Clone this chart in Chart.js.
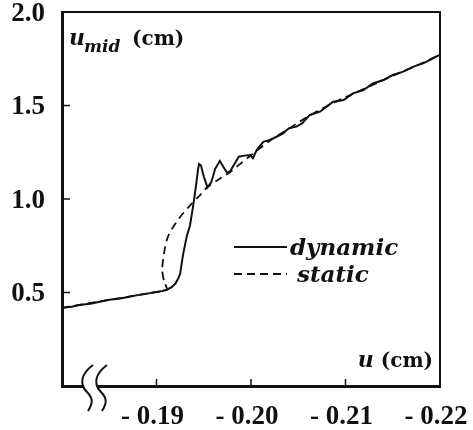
<!DOCTYPE html>
<html>
<head>
<meta charset="utf-8">
<script src="https://cdn.jsdelivr.net/npm/chart.js@4.4.1/dist/chart.umd.min.js"></script>
<style>
  html, body { margin: 0; padding: 0; background: #fff; }
  #wrap { width: 473px; height: 430px; }
</style>
</head>
<body>
<div id="wrap"><canvas id="grafico" width="473" height="430"></canvas></div>
<script>
// midpoint displacement vs end displacement (cm)
const uDynamic = [-0.1800, -0.1810, -0.1820, -0.1830, -0.1840, -0.1850, -0.1860, -0.1870, -0.1880, -0.1890,
  -0.1900, -0.1906, -0.1911, -0.1916, -0.1920, -0.1923, -0.1925, -0.1928, -0.1932, -0.19355,
  -0.1939, -0.1942, -0.1944, -0.1945, -0.1947, -0.1950, -0.1954, -0.1958, -0.1962, -0.1967,
  -0.1971, -0.1975, -0.1978, -0.1983, -0.1987, -0.1993, -0.1999, -0.2002, -0.2006, -0.2013,
  -0.2020, -0.2027, -0.2034, -0.2040, -0.2048, -0.2054, -0.2062, -0.2073, -0.2080, -0.2087,
  -0.2098, -0.2108, -0.2119, -0.2129, -0.2140, -0.2150, -0.2161, -0.2172, -0.2182, -0.2189, -0.2199];
const midDynamic = [0.418, 0.424, 0.434, 0.440, 0.450, 0.461, 0.467, 0.476, 0.486, 0.494,
  0.503, 0.508, 0.515, 0.528, 0.548, 0.575, 0.600, 0.700, 0.800, 0.860,
  0.970, 1.080, 1.160, 1.187, 1.180, 1.120, 1.062, 1.090, 1.160, 1.203,
  1.170, 1.139, 1.150, 1.191, 1.226, 1.232, 1.235, 1.218, 1.262, 1.306,
  1.316, 1.333, 1.351, 1.378, 1.387, 1.404, 1.449, 1.467, 1.494, 1.520,
  1.529, 1.565, 1.583, 1.618, 1.636, 1.663, 1.681, 1.708, 1.725, 1.743, 1.770];

const uStatic = [-0.1800, -0.1850, -0.1900, -0.1911, -0.1908, -0.1906, -0.1907, -0.1909, -0.1912, -0.1917,
  -0.1925, -0.1934, -0.1944, -0.1954, -0.1966, -0.1978, -0.1988, -0.1997, -0.2007, -0.2020,
  -0.2040, -0.2060, -0.2080, -0.2100, -0.2120, -0.2140, -0.2160, -0.2180, -0.2199];
const midStatic = [0.418, 0.461, 0.503, 0.515, 0.560, 0.620, 0.675, 0.740, 0.797, 0.845,
  0.904, 0.957, 1.010, 1.064, 1.105, 1.144, 1.185, 1.222, 1.262, 1.312,
  1.376, 1.440, 1.496, 1.545, 1.590, 1.636, 1.680, 1.724, 1.770];

const xTicks = [-0.19, -0.20, -0.21, -0.22];
const yTicks = [0.5, 1.0, 1.5, 2.0];
const seriesNames = ['dynamic', 'static'];

const serif = '"DejaVu Serif", "Liberation Serif", serif';
const numFont = '"Liberation Serif", "DejaVu Serif", serif';

function toPoints(xs, ys) {
  return xs.map((x, i) => ({ x: x, y: ys[i] }));
}

// frame, inward ticks, axis break, titles and legend
const framePlugin = {
  id: 'frame',
  afterDraw(chart) {
    const ctx = chart.ctx;
    const a = chart.chartArea;
    const xs = chart.scales.x, ys = chart.scales.y;
    ctx.save();
    ctx.strokeStyle = '#111';
    ctx.lineCap = 'butt';

    // top and right edges
    ctx.lineWidth = 2;
    ctx.beginPath();
    ctx.moveTo(a.left, a.top);
    ctx.lineTo(a.right, a.top);
    ctx.lineTo(a.right, a.bottom);
    ctx.stroke();

    // short ticks pointing inward
    ctx.lineWidth = 1.5;
    yTicks.slice(0, 3).forEach(v => {
      const py = ys.getPixelForValue(v);
      ctx.beginPath();
      ctx.moveTo(a.left, py);
      ctx.lineTo(a.left + 8, py);
      ctx.stroke();
    });
    xTicks.slice(0, 3).forEach(v => {
      const px = xs.getPixelForValue(v);
      ctx.beginPath();
      ctx.moveTo(px, a.bottom);
      ctx.lineTo(px, a.bottom - 7);
      ctx.stroke();
    });

    // axis break on the x axis
    const bx = a.left + 21;
    ctx.fillStyle = '#fff';
    ctx.fillRect(bx + 1, a.bottom - 4, 14, 8);
    ctx.lineWidth = 2;
    [0, 14].forEach(dx => {
      const x0 = bx + dx;
      ctx.beginPath();
      ctx.moveTo(x0 + 10, a.bottom - 21);
      ctx.bezierCurveTo(x0 - 2, a.bottom - 12, x0 - 4, a.bottom - 2, x0 + 4, a.bottom + 6);
      ctx.bezierCurveTo(x0 + 12, a.bottom + 14, x0 + 8, a.bottom + 20, x0 + 5, a.bottom + 25);
      ctx.stroke();
    });

    // axis titles
    ctx.fillStyle = '#111';
    ctx.textBaseline = 'alphabetic';
    ctx.textAlign = 'left';
    ctx.font = 'italic bold 22px ' + serif;
    ctx.fillText('u', a.left + 7, a.top + 33);
    ctx.font = 'italic bold 17px ' + serif;
    ctx.fillText('mid', a.left + 22, a.top + 40);
    ctx.font = 'bold 20px ' + serif;
    ctx.fillText('(cm)', a.left + 70, a.top + 33);

    ctx.textAlign = 'right';
    ctx.font = 'bold 20px ' + serif;
    const cm = '(cm)';
    ctx.fillText(cm, a.right - 7, a.bottom - 19);
    const cmW = ctx.measureText(cm + ' ').width;
    ctx.font = 'italic bold 22px ' + serif;
    ctx.fillText('u', a.right - 7 - cmW, a.bottom - 19);

    // legend
    const sets = chart.data.datasets;
    const rows = [247, 274];
    ctx.textAlign = 'left';
    ctx.font = 'italic bold 23px ' + serif;
    sets.forEach((ds, i) => {
      const y = rows[i];
      ctx.strokeStyle = ds.borderColor;
      ctx.lineWidth = ds.borderWidth;
      ctx.setLineDash(ds.borderDash || []);
      ctx.beginPath();
      ctx.moveTo(234, y);
      ctx.lineTo(287, y);
      ctx.stroke();
      ctx.setLineDash([]);
      ctx.fillStyle = '#111';
      ctx.fillText(ds.label, i === 0 ? 290 : 297, y + 8);
    });
    ctx.restore();
  }
};

new Chart(document.getElementById('grafico'), {
  type: 'scatter',
  data: {
    datasets: [
      {
        label: seriesNames[0],
        data: toPoints(uDynamic, midDynamic),
        showLine: true,
        borderColor: '#111',
        borderWidth: 2,
        pointRadius: 0,
        tension: 0
      },
      {
        label: seriesNames[1],
        data: toPoints(uStatic, midStatic),
        showLine: true,
        borderColor: '#111',
        borderWidth: 1.8,
        borderDash: [8, 5],
        pointRadius: 0,
        tension: 0.25
      }
    ]
  },
  options: {
    responsive: false,
    animation: false,
    devicePixelRatio: 1,
    layout: { padding: { top: 12, right: 33, left: 0, bottom: 0 } },
    plugins: {
      legend: { display: false },
      tooltip: { enabled: false }
    },
    scales: {
      x: {
        type: 'linear',
        reverse: true,
        min: -0.22,
        max: -0.18,
        afterBuildTicks: s => { s.ticks = xTicks.map(v => ({ value: v })); },
        afterFit: s => { s.height = 44; s.paddingLeft = 0; s.paddingRight = 0; },
        grid: { display: false, drawTicks: false },
        border: { display: true, color: '#111', width: 3 },
        ticks: {
          color: '#111',
          padding: 15,
          labelOffset: -4,
          maxRotation: 0,
          autoSkip: false,
          font: { family: numFont, size: 27, weight: 'bold' },
          callback: v => '- ' + Math.abs(v).toFixed(2)
        }
      },
      y: {
        type: 'linear',
        min: 0,
        max: 2,
        afterBuildTicks: s => { s.ticks = yTicks.map(v => ({ value: v })); },
        afterFit: s => { s.width = 62; s.paddingTop = 0; s.paddingBottom = 0; },
        grid: { display: false, drawTicks: false },
        border: { display: true, color: '#111', width: 3 },
        ticks: {
          color: '#111',
          padding: 17,
          labelOffset: 2,
          font: { family: numFont, size: 27, weight: 'bold' },
          callback: v => v.toFixed(1)
        }
      }
    }
  },
  plugins: [framePlugin]
});
</script>
</body>
</html>
